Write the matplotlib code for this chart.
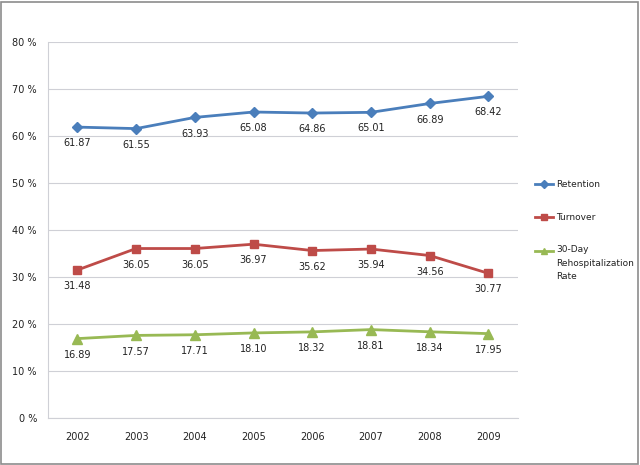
import matplotlib.pyplot as plt
from matplotlib.patches import Rectangle

# -------------------
# Data
# -------------------
years = ["2002", "2003", "2004", "2005", "2006", "2007", "2008", "2009"]
retention = [61.87, 61.55, 63.93, 65.08, 64.86, 65.01, 66.89, 68.42]
turnover = [31.48, 36.05, 36.05, 36.97, 35.62, 35.94, 34.56, 30.77]
rehosp = [16.89, 17.57, 17.71, 18.10, 18.32, 18.81, 18.34, 17.95]
series_names = ["Retention", "Turnover", "30-Day\nRehospitalization\nRate"]

colors = ["#4A7EBB", "#BE4B48", "#98B954"]
markers = ["D", "s", "^"]
msizes = [5, 6, 6.5]

fig = plt.figure(figsize=(6.4, 4.65), dpi=100)
ax = fig.add_axes([0.075, 0.101, 0.734, 0.809])

x = list(range(len(years)))
lines = []
for vals, c, m, ms, name in zip([retention, turnover, rehosp], colors, markers, msizes, series_names):
    ln, = ax.plot(x, vals, color=c, marker=m, markersize=ms, linewidth=2, label=name, zorder=3)
    lines.append(ln)
    for xi, v in zip(x, vals):
        ax.annotate(f"{v:.2f}", (xi, v), xytext=(0, -8), textcoords="offset points",
                    ha="center", va="top", fontsize=7, color="#222222")

ax.set_xlim(-0.5, len(years) - 0.5)
ax.set_ylim(0, 80)
ax.set_yticks(range(0, 81, 10))
ax.set_yticklabels([f"{t} %" for t in range(0, 81, 10)])
ax.set_xticks(x)
ax.set_xticklabels(years)
ax.tick_params(axis="both", labelsize=7, length=0, colors="#222222")
ax.tick_params(axis="x", pad=10)
ax.tick_params(axis="y", pad=8)
ax.grid(axis="y", color="#cfd0d6", linewidth=0.8)
ax.set_axisbelow(True)
for side in ["top", "right"]:
    ax.spines[side].set_visible(False)
for side in ["left", "bottom"]:
    ax.spines[side].set_color("#cfd0d6")

# legend on the right, spaced out like the original
leg_y = [184, 217, 251]
for ln, name, yy in zip(lines, series_names, leg_y):
    yf = 1 - yy / 465
    fig.lines.append(plt.Line2D([535 / 640, 553 / 640], [yf, yf], color=ln.get_color(),
                                linewidth=2, transform=fig.transFigure))
    fig.lines.append(plt.Line2D([544 / 640], [yf], color=ln.get_color(), marker=ln.get_marker(),
                                markersize=4, transform=fig.transFigure))
    if "\n" in name:
        fig.text(556 / 640, yf + 0.012, name, fontsize=6.5, va="top", ha="left",
                 color="#222222", linespacing=1.6)
    else:
        fig.text(556 / 640, yf, name, fontsize=6.5, va="center", ha="left", color="#222222")

# grey frame round the whole picture
fig.patches.append(Rectangle((0.002, 0.003), 0.995, 0.993, transform=fig.transFigure,
                             fill=False, edgecolor="#8c8c8c", linewidth=1.2))

fig.savefig("out.png", dpi=100)
